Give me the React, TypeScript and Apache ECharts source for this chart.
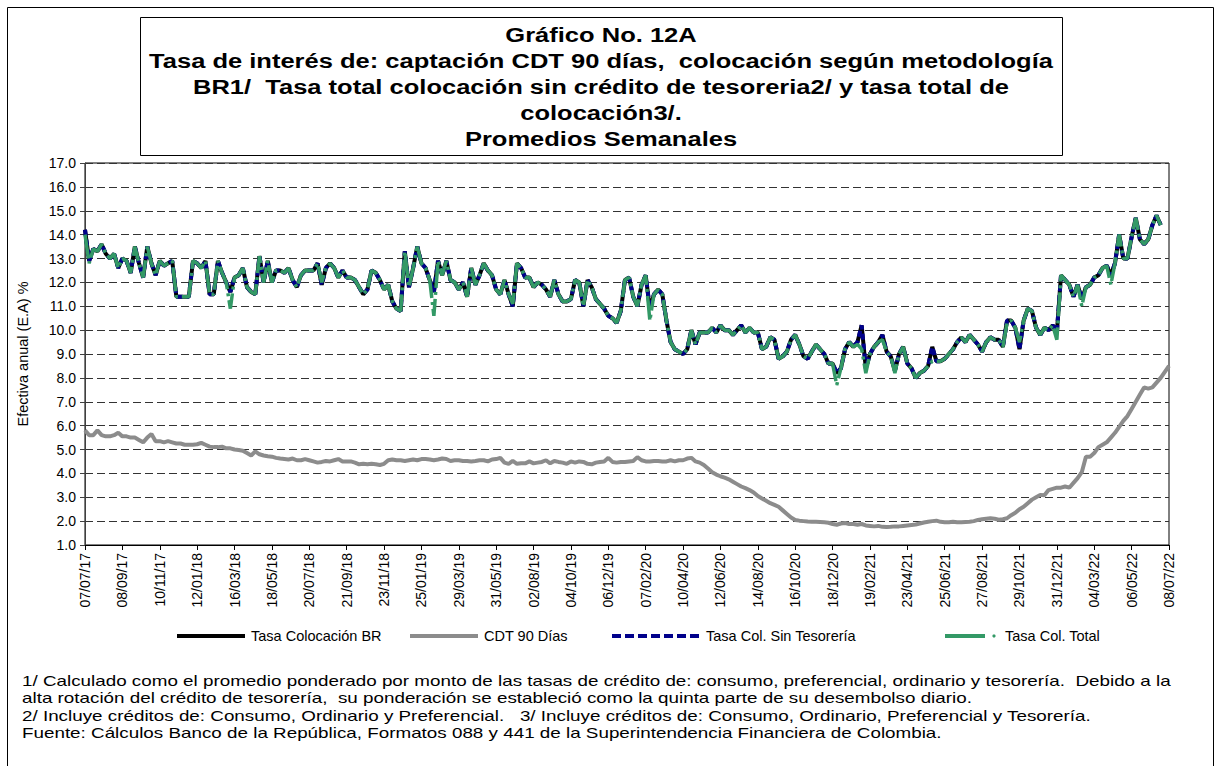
import React, { useEffect, useRef } from "react";
import * as echarts from "echarts";

// ---------- DATA ----------
const startDate = "2017-07-07";
const weekCount = 262;

const tickLabels = [
  "07/07/17", "08/09/17", "10/11/17", "12/01/18", "16/03/18", "18/05/18", "20/07/18", "21/09/18",
  "23/11/18", "25/01/19", "29/03/19", "31/05/19", "02/08/19", "04/10/19", "06/12/19", "07/02/20",
  "10/04/20", "12/06/20", "14/08/20", "16/10/20", "18/12/20", "19/02/21", "23/04/21", "25/06/21",
  "27/08/21", "29/10/21", "31/12/21", "04/03/22", "06/05/22", "08/07/22",
];

const tasaBR = [
  14.2, 12.9, 13.4, 13.3, 13.6, 13.2, 13.0, 13.2, 12.6, 13.0, 12.9, 12.4, 13.5, 12.8, 12.2, 13.5, 12.8, 12.3, 12.9, 12.7, 12.8, 12.9, 11.4, 11.4, 11.4, 11.4,
  12.9, 12.8, 12.6, 12.9, 11.5, 11.5, 12.9, 12.4, 12.0, 11.6, 12.2, 12.3, 12.6, 11.8, 11.6, 11.5, 13.1, 12.0, 12.9, 12.0, 12.5, 12.5, 12.4, 12.6, 12.1, 11.8,
  12.3, 12.5, 12.5, 12.5, 12.8, 11.9, 12.6, 12.8, 12.6, 12.2, 12.5, 12.2, 12.2, 12.1, 11.8, 11.5, 11.7, 12.5, 12.4, 12.1, 11.7, 11.9, 11.2, 10.9, 10.8,
  13.3, 11.8, 12.6, 13.5, 12.8, 12.6, 12.1, 11.6, 12.9, 12.3, 12.9, 12.1, 12.0, 11.7, 12.0, 11.4, 12.6, 11.9, 12.3, 12.8, 12.5, 12.3, 11.7, 11.5, 12.1, 11.5, 11.0, 12.8,
  12.6, 12.2, 12.2, 11.8, 12.0, 11.9, 11.7, 11.4, 12.1, 11.5, 11.2, 11.2, 11.3, 12.1, 12.0, 11.0, 12.1, 11.8, 11.3, 11.1, 10.9, 10.6, 10.5, 10.3, 10.8, 12.1,
  12.2, 11.4, 11.0, 11.9, 12.3, 10.9, 11.5, 11.7, 11.5, 10.4, 9.5, 9.2, 9.1, 9.0, 9.2, 10.0, 9.4, 9.9, 9.9, 9.9, 10.1, 9.9, 10.2, 10.0, 10.0, 9.8,
  10.0, 10.2, 9.9, 10.1, 9.9, 9.9, 9.2, 9.3, 9.7, 9.6, 8.8, 8.9, 9.1, 9.6, 9.8, 9.4, 8.9, 8.8, 9.1, 9.4, 9.2, 9.0, 8.6, 8.6, 8.2, 8.4, 9.2,
  9.5, 9.3, 9.5, 10.2, 8.4, 9.0, 9.3, 9.5, 9.8, 9.1, 8.9, 8.3, 9.0, 9.3, 8.6, 8.4, 8.0, 8.2, 8.3, 8.5, 9.3, 8.7, 8.7, 8.8, 9.0, 9.2,
  9.5, 9.7, 9.5, 9.8, 9.6, 9.4, 9.1, 9.5, 9.7, 9.6, 9.6, 9.3, 10.4, 10.4, 10.1, 9.2, 10.4, 10.9, 10.8, 10.1, 9.8, 10.1, 10.0, 10.2, 9.9, 12.3,
  12.1, 11.9, 11.4, 11.9, 11.3, 11.8, 11.9, 12.2, 12.3, 12.6, 12.7, 12.3, 12.8, 14.0, 13.0, 13.0, 13.9, 14.7, 13.8, 13.6, 13.8, 14.4, 14.8, 14.4,
];

const tasaSinTesoreria = [
  14.2, 12.9, 13.4, 13.3, 13.6, 13.2, 13.0, 13.2, 12.6, 13.0, 12.9, 12.4, 13.5, 12.8, 12.2, 13.5, 12.8, 12.3, 12.9, 12.7, 12.8, 12.9, 11.4, 11.4, 11.4, 11.4,
  12.9, 12.8, 12.6, 12.9, 11.5, 11.5, 12.9, 12.4, 12.0, 11.6, 12.2, 12.3, 12.6, 11.8, 11.6, 11.5, 13.1, 12.0, 12.9, 12.0, 12.5, 12.5, 12.4, 12.6, 12.1, 11.8,
  12.3, 12.5, 12.5, 12.5, 12.8, 11.9, 12.6, 12.8, 12.6, 12.2, 12.5, 12.2, 12.2, 12.1, 11.8, 11.5, 11.7, 12.5, 12.4, 12.1, 11.7, 11.9, 11.2, 10.9, 10.8,
  13.3, 11.8, 12.6, 13.5, 12.8, 12.6, 12.1, 11.6, 12.9, 12.3, 12.9, 12.1, 12.0, 11.7, 12.0, 11.4, 12.6, 11.9, 12.3, 12.8, 12.5, 12.3, 11.7, 11.5, 12.1, 11.5, 11.0, 12.8,
  12.6, 12.2, 12.2, 11.8, 12.0, 11.9, 11.7, 11.4, 12.1, 11.5, 11.2, 11.2, 11.3, 12.1, 12.0, 11.0, 12.1, 11.8, 11.3, 11.1, 10.9, 10.6, 10.5, 10.3, 10.8, 12.1,
  12.2, 11.4, 11.0, 11.9, 12.3, 10.9, 11.5, 11.7, 11.5, 10.4, 9.5, 9.2, 9.1, 9.0, 9.2, 10.0, 9.4, 9.9, 9.9, 9.9, 10.1, 9.9, 10.2, 10.0, 10.0, 9.8,
  10.0, 10.2, 9.9, 10.1, 9.9, 9.9, 9.2, 9.3, 9.7, 9.6, 8.8, 8.9, 9.1, 9.6, 9.8, 9.4, 8.9, 8.8, 9.1, 9.4, 9.2, 9.0, 8.6, 8.6, 8.2, 8.4, 9.2,
  9.5, 9.3, 9.5, 10.2, 8.4, 9.0, 9.3, 9.5, 9.8, 9.1, 8.9, 8.3, 9.0, 9.3, 8.6, 8.4, 8.0, 8.2, 8.3, 8.5, 9.3, 8.7, 8.7, 8.8, 9.0, 9.2,
  9.5, 9.7, 9.5, 9.8, 9.6, 9.4, 9.1, 9.5, 9.7, 9.6, 9.6, 9.3, 10.4, 10.4, 10.1, 9.2, 10.4, 10.9, 10.8, 10.1, 9.8, 10.1, 10.0, 10.2, 9.9, 12.3,
  12.1, 11.9, 11.4, 11.9, 11.3, 11.8, 11.9, 12.2, 12.3, 12.6, 12.7, 12.3, 12.8, 14.0, 13.0, 13.0, 13.9, 14.7, 13.8, 13.6, 13.8, 14.4, 14.8, 14.4,
];

const tasaTotal = [
  14.0, 12.8, 13.4, 13.3, 13.6, 13.2, 13.0, 13.2, 12.6, 13.0, 12.9, 12.4, 13.5, 12.8, 12.2, 13.5, 12.8, 12.3, 12.9, 12.7, 12.8, 12.9, 11.4, 11.4, 11.4, 11.4,
  12.9, 12.8, 12.6, 12.9, 11.5, 11.5, 12.9, 12.4, 12.0, 10.9, 12.2, 12.3, 12.6, 11.8, 11.6, 11.5, 13.1, 12.0, 12.9, 12.0, 12.5, 12.5, 12.4, 12.6, 12.1, 11.8,
  12.3, 12.5, 12.5, 12.5, 12.8, 12.0, 12.6, 12.8, 12.6, 12.2, 12.5, 12.2, 12.2, 12.1, 11.8, 11.5, 11.7, 12.5, 12.4, 12.1, 11.7, 11.9, 11.2, 10.9, 10.8,
  13.3, 11.8, 12.6, 13.5, 12.8, 12.6, 12.1, 10.6, 12.9, 12.3, 12.9, 12.1, 12.0, 11.7, 12.0, 11.4, 12.6, 11.9, 12.3, 12.8, 12.5, 12.3, 11.7, 11.5, 12.1, 11.5, 11.1, 12.8,
  12.6, 12.2, 12.2, 11.8, 12.0, 11.9, 11.7, 11.4, 12.1, 11.5, 11.2, 11.2, 11.3, 12.1, 12.0, 11.0, 12.1, 11.8, 11.3, 11.1, 10.9, 10.6, 10.5, 10.3, 10.8, 12.1,
  12.2, 11.4, 11.0, 11.9, 12.3, 10.4, 11.5, 11.7, 11.5, 10.4, 9.5, 9.2, 9.1, 9.0, 9.2, 10.0, 9.4, 9.9, 9.9, 9.9, 10.1, 9.9, 10.2, 10.0, 10.0, 9.8,
  10.0, 10.2, 9.9, 10.1, 9.9, 9.9, 9.2, 9.3, 9.7, 9.6, 8.8, 8.9, 9.1, 9.6, 9.8, 9.4, 8.9, 8.8, 9.1, 9.4, 9.2, 9.0, 8.6, 8.6, 7.7, 8.4, 9.2,
  9.5, 9.3, 9.4, 9.2, 8.2, 9.0, 9.3, 9.5, 9.6, 9.1, 8.9, 8.2, 9.0, 9.3, 8.6, 8.4, 8.0, 8.2, 8.3, 8.5, 8.7, 8.7, 8.7, 8.8, 9.0, 9.2,
  9.5, 9.7, 9.5, 9.8, 9.6, 9.4, 9.1, 9.5, 9.7, 9.6, 9.6, 9.3, 10.3, 10.4, 10.1, 9.5, 10.4, 10.9, 10.8, 10.1, 9.8, 10.1, 10.0, 10.2, 9.6, 12.3,
  12.1, 11.9, 11.4, 11.9, 11.0, 11.8, 11.9, 12.2, 12.3, 12.6, 12.7, 11.9, 12.8, 14.0, 13.0, 13.0, 13.9, 14.7, 13.8, 13.6, 13.8, 14.4, 14.8, 14.4,
];

const cdt90 = [
  5.8, 5.6, 5.6, 5.8, 5.6, 5.55, 5.55, 5.6, 5.7, 5.55, 5.55, 5.5, 5.5, 5.4, 5.3, 5.5, 5.65, 5.35, 5.35, 5.3, 5.35, 5.3, 5.25, 5.25, 5.2, 5.2,
  5.2, 5.22, 5.28, 5.2, 5.12, 5.1, 5.1, 5.12, 5.05, 5.05, 5.0, 4.98, 4.95, 4.85, 4.75, 4.92, 4.8, 4.75, 4.72, 4.7, 4.65, 4.62, 4.6, 4.58, 4.62, 4.55,
  4.55, 4.6, 4.55, 4.5, 4.45, 4.48, 4.52, 4.5, 4.55, 4.6, 4.5, 4.5, 4.5, 4.45, 4.38, 4.4, 4.38, 4.4, 4.38, 4.35, 4.4, 4.55, 4.58, 4.55, 4.55, 4.52,
  4.55, 4.58, 4.55, 4.6, 4.6, 4.58, 4.55, 4.58, 4.62, 4.6, 4.52, 4.55, 4.55, 4.52, 4.52, 4.5, 4.52, 4.55, 4.55, 4.5, 4.58, 4.6, 4.65, 4.45, 4.4, 4.52, 4.4,
  4.42, 4.42, 4.5, 4.42, 4.45, 4.48, 4.55, 4.42, 4.52, 4.48, 4.45, 4.4, 4.5, 4.45, 4.5, 4.48, 4.4, 4.38, 4.45, 4.48, 4.5, 4.65, 4.48, 4.45, 4.48, 4.48,
  4.5, 4.52, 4.68, 4.55, 4.5, 4.5, 4.52, 4.52, 4.5, 4.5, 4.55, 4.5, 4.55, 4.55, 4.62, 4.65, 4.5, 4.45, 4.35, 4.2, 4.05, 3.95, 3.88, 3.82, 3.75, 3.65,
  3.55, 3.45, 3.38, 3.3, 3.2, 3.05, 2.95, 2.85, 2.75, 2.68, 2.6, 2.45, 2.3, 2.15, 2.05, 2.02, 2.0, 1.98, 1.97, 1.97, 1.96, 1.95, 1.93, 1.88, 1.85, 1.9, 1.92,
  1.88, 1.88, 1.85, 1.88, 1.82, 1.8, 1.78, 1.8, 1.76, 1.75, 1.76, 1.78, 1.78, 1.8, 1.82, 1.84, 1.86, 1.9, 1.94, 1.97, 2.0, 2.02, 1.97, 1.95, 1.95, 1.97,
  1.95, 1.95, 1.96, 1.97, 2.0, 2.05, 2.08, 2.1, 2.12, 2.1, 2.06, 2.08, 2.12, 2.25, 2.35, 2.5, 2.6, 2.75, 2.9, 3.0, 3.1, 3.08, 3.3, 3.35, 3.4, 3.4,
  3.45, 3.4, 3.6, 3.8, 4.05, 4.7, 4.7, 4.85, 5.1, 5.2, 5.3, 5.5, 5.7, 5.95, 6.2, 6.4, 6.7, 7.0, 7.3, 7.6, 7.55, 7.6, 7.8, 8.0, 8.25, 8.5,
];

const seriesNames = ["Tasa Colocación BR", "CDT 90 Días", "Tasa Col. Sin Tesorería", "Tasa Col. Total"];

const titleLines = [
  "Gráfico No. 12A",
  "Tasa de interés de: captación CDT 90 días,  colocación según metodología",
  "BR1/  Tasa total colocación sin crédito de tesoreria2/ y tasa total de",
  "colocación3/.",
  "Promedios Semanales",
];

const footnotes = [
  "1/ Calculado como el promedio ponderado por monto de las tasas de crédito de: consumo, preferencial, ordinario y tesorería.  Debido a la",
  "alta rotación del crédito de tesorería,  su ponderación se estableció como la quinta parte de su desembolso diario.",
  "2/ Incluye créditos de: Consumo, Ordinario y Preferencial.   3/ Incluye créditos de: Consumo, Ordinario, Preferencial y Tesorería.",
  "Fuente: Cálculos Banco de la República, Formatos 088 y 441 de la Superintendencia Financiera de Colombia.",
];

const yAxisName = "Efectiva anual (E.A) %";

// ---------- helpers ----------
const FONT = '"Liberation Sans", Arial, Helvetica, sans-serif';

function pad(n: number) {
  return n < 10 ? "0" + n : String(n);
}

function buildCategories(): string[] {
  const [y, m, d] = startDate.split("-").map(Number);
  const base = Date.UTC(y, m - 1, d);
  const out: string[] = [];
  for (let i = 0; i < weekCount; i++) {
    const dt = new Date(base + i * 7 * 86400000);
    out.push(pad(dt.getUTCDate()) + "/" + pad(dt.getUTCMonth() + 1) + "/" + String(dt.getUTCFullYear()).slice(2));
  }
  return out;
}

function fitScale(text: string, font: string, target: number): number {
  const ctx = document.createElement("canvas").getContext("2d");
  if (!ctx) return 1;
  ctx.font = font;
  const w = ctx.measureText(text).width;
  return w > 0 ? target / w : 1;
}

export default function App() {
  const ref = useRef<HTMLDivElement>(null);

  useEffect(() => {
    if (!ref.current) return;
    const chart = echarts.init(ref.current, null, { renderer: "svg" });
    const categories = buildCategories();
    const tickSet = new Set(tickLabels);
    const showTick = (_i: number, v: string) => tickSet.has(v);

    const titleCenter = 601;
    const titleY = [35, 61, 87, 113, 139];
    const titleFont = "bold 21px " + FONT;
    const titleScale = fitScale(titleLines[1], titleFont, 904);

    const footY = [681, 698, 716, 733];
    const footFont = "14px " + FONT;
    const footScale = fitScale(footnotes[0], footFont, 1150);

    const graphics: any[] = [];
    graphics.push({
      type: "rect",
      silent: true,
      shape: { x: 7.5, y: 7.5, width: 1206, height: 790 },
      style: { fill: "none", stroke: "#000", lineWidth: 1 },
    });
    graphics.push({
      type: "rect",
      silent: true,
      shape: { x: 140.5, y: 17.5, width: 922, height: 138 },
      style: { fill: "#fff", stroke: "#000", lineWidth: 1 },
    });
    titleLines.forEach((t, i) => {
      graphics.push({
        type: "text",
        silent: true,
        x: titleCenter,
        y: titleY[i],
        scaleX: titleScale,
        style: {
          text: t,
          fontFamily: FONT,
          fontSize: 21,
          fontWeight: "bold",
          fill: "#000",
          align: "center",
          verticalAlign: "middle",
        },
      });
    });
    footnotes.forEach((t, i) => {
      graphics.push({
        type: "text",
        silent: true,
        x: 22,
        y: footY[i],
        scaleX: footScale,
        style: {
          text: t,
          fontFamily: FONT,
          fontSize: 14,
          fill: "#000",
          align: "left",
          verticalAlign: "middle",
        },
      });
    });

    // legend (drawn)
    const legY = 636;
    const legendItems = [
      { x1: 177, x2: 245, tx: 251, color: "#000000", dash: null as any, dot: false },
      { x1: 410, x2: 478, tx: 484, color: "#8c8c8c", dash: null as any, dot: false },
      { x1: 612, x2: 700, tx: 706, color: "#00008b", dash: [9, 4], dot: false },
      { x1: 945, x2: 985, tx: 1005, color: "#339966", dash: null as any, dot: true },
    ];
    legendItems.forEach((it, i) => {
      graphics.push({
        type: "line",
        silent: true,
        shape: { x1: it.x1, y1: legY, x2: it.x2, y2: legY },
        style: { stroke: it.color, lineWidth: 4, lineDash: it.dash || undefined },
      });
      if (it.dot) {
        graphics.push({
          type: "circle",
          silent: true,
          shape: { cx: 994, cy: legY, r: 1.6 },
          style: { fill: it.color },
        });
      }
      graphics.push({
        type: "text",
        silent: true,
        x: it.tx,
        y: legY,
        style: {
          text: seriesNames[i],
          fontFamily: FONT,
          fontSize: 14.5,
          fill: "#000",
          align: "left",
          verticalAlign: "middle",
        },
      });
    });

    const option: any = {
      animation: false,
      backgroundColor: "#ffffff",
      textStyle: { fontFamily: FONT },
      grid: {
        left: 85,
        right: 51,
        top: 163,
        bottom: 221,
        show: true,
        borderColor: "#000",
        borderWidth: 1,
        containLabel: false,
        outerBoundsMode: "none",
      },
      xAxis: {
        type: "category",
        data: categories,
        boundaryGap: false,
        axisLine: { show: true, lineStyle: { color: "#000", width: 1 } },
        axisTick: { show: true, interval: showTick, length: 5, inside: false, lineStyle: { color: "#000" } },
        axisLabel: {
          interval: showTick,
          rotate: 90,
          fontSize: 14,
          color: "#000",
          fontFamily: FONT,
          margin: 8,
          hideOverlap: false,
        },
        splitLine: { show: false },
      },
      yAxis: {
        type: "value",
        min: 1,
        max: 17,
        interval: 1,
        name: yAxisName,
        nameLocation: "middle",
        nameGap: 55,
        nameTextStyle: { fontSize: 14.5, color: "#000", fontFamily: FONT },
        axisLine: { show: true, lineStyle: { color: "#404040", width: 1 } },
        axisTick: { show: true, length: 5, inside: false, lineStyle: { color: "#404040" } },
        axisLabel: {
          fontSize: 14,
          color: "#000",
          fontFamily: FONT,
          margin: 9,
          formatter: (v: number) => v.toFixed(1),
        },
        splitLine: { show: true, lineStyle: { color: "#333", width: 1, type: [8, 4] } },
      },
      series: [
        {
          name: seriesNames[0],
          type: "line",
          data: tasaBR,
          symbol: "none",
          lineStyle: { color: "#000000", width: 4 },
          z: 2,
        },
        {
          name: seriesNames[1],
          type: "line",
          data: cdt90,
          symbol: "none",
          lineStyle: { color: "#8c8c8c", width: 4 },
          z: 2,
        },
        {
          name: seriesNames[2],
          type: "line",
          data: tasaSinTesoreria,
          symbol: "none",
          lineStyle: { color: "#00008b", width: 4, type: [6, 4] },
          z: 3,
        },
        {
          name: seriesNames[3],
          type: "line",
          data: tasaTotal,
          symbol: "none",
          lineStyle: { color: "#339966", width: 3.5, type: [24, 4, 3, 4] },
          z: 4,
        },
      ],
      graphic: graphics,
    };

    chart.setOption(option);
    return () => chart.dispose();
  }, []);

  return (
    <div
      ref={ref}
      style={{ position: "absolute", left: 0, top: 0, width: 1220, height: 766, background: "#fff" }}
    />
  );
}
